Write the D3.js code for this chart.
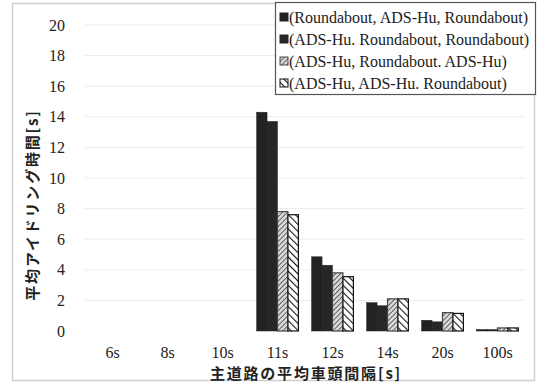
<!DOCTYPE html>
<html>
<head>
<meta charset="utf-8">
<script src="https://cdn.jsdelivr.net/npm/d3@7"></script>
<style>
  html, body { margin: 0; padding: 0; background: #fff; }
  svg { display: block; }
  text.tick-label { font-family: 'Liberation Serif', 'Times New Roman', serif; font-size: 16px; fill: #222; }
  text.legend-label { font-family: 'Liberation Serif', 'Times New Roman', serif; font-size: 16px; fill: #222; }
  text.axis-title { font-family: 'Noto Sans CJK JP', sans-serif; font-weight: bold; font-size: 15px; letter-spacing: 1.8px; fill: #222; }
</style>
</head>
<body>
<svg id="chart" width="538" height="385"></svg>
<script>
// Average idling time by mean headway on the main road
const categories = ["6s", "8s", "10s", "11s", "12s", "14s", "20s", "100s"];
const seriesNames = [
  "(Roundabout, ADS-Hu, Roundabout)",
  "(ADS-Hu. Roundabout, Roundabout)",
  "(ADS-Hu, Roundabout. ADS-Hu)",
  "(ADS-Hu, ADS-Hu. Roundabout)"
];
const s1 = [0, 0, 0, 14.3, 4.85, 1.85, 0.7, 0.1];
const s2 = [0, 0, 0, 13.7, 4.3, 1.65, 0.6, 0.1];
const s3 = [0, 0, 0, 7.8, 3.8, 2.1, 1.2, 0.2];
const s4 = [0, 0, 0, 7.6, 3.55, 2.1, 1.15, 0.2];
const seriesValues = [s1, s2, s3, s4];
const yTicks = [0, 2, 4, 6, 8, 10, 12, 14, 16, 18, 20];

const svg = d3.select("#chart");

// outer frame
svg.append("rect").attr("x", 12.5).attr("y", 3.5).attr("width", 522).attr("height", 377)
  .attr("fill", "none").attr("stroke", "#cfcfcf").attr("stroke-width", 1.5);

const defs = svg.append("defs");
// fine forward hatch
const p3 = defs.append("pattern").attr("id", "hatch3").attr("patternUnits", "userSpaceOnUse")
  .attr("width", 3.5).attr("height", 3.5).attr("patternTransform", "rotate(45)");
p3.append("rect").attr("width", 3.5).attr("height", 3.5).attr("fill", "#d8d8d8");
p3.append("line").attr("x1", 0).attr("y1", 0).attr("x2", 0).attr("y2", 3.5)
  .attr("stroke", "#333").attr("stroke-width", 1.4);
// bold back hatch
const p4 = defs.append("pattern").attr("id", "hatch4").attr("patternUnits", "userSpaceOnUse")
  .attr("width", 5).attr("height", 5).attr("patternTransform", "rotate(-45)");
p4.append("rect").attr("width", 5).attr("height", 5).attr("fill", "#fff");
p4.append("line").attr("x1", 0).attr("y1", 0).attr("x2", 0).attr("y2", 5)
  .attr("stroke", "#111").attr("stroke-width", 2.2);

const fills = ["#222", "#262626", "url(#hatch3)", "url(#hatch4)"];
const strokes = ["#222", "#262626", "#444", "#111"];

const margin = { left: 85, right: 525, top: 25, bottom: 331 };
const x = d3.scaleBand().domain(categories).range([margin.left, margin.right]).paddingInner(0.24).paddingOuter(0.12);
const xs = d3.scaleBand().domain(d3.range(4)).range([0, x.bandwidth()]);
const y = d3.scaleLinear().domain([0, 20]).range([margin.bottom, margin.top]);

// faint gridlines
svg.append("g").selectAll("line").data(yTicks.slice(1)).join("line")
  .attr("x1", margin.left).attr("x2", margin.right)
  .attr("y1", d => y(d)).attr("y2", d => y(d))
  .attr("stroke", "#ececec").attr("stroke-width", 1);

// y tick labels
svg.append("g").selectAll("text").data(yTicks).join("text")
  .attr("class", "tick-label")
  .attr("x", 65).attr("y", d => y(d)).attr("dy", "0.35em")
  .attr("text-anchor", "end")
  .text(d => d3.format("d")(d));

// x tick labels
svg.append("g").selectAll("text").data(categories).join("text")
  .attr("class", "tick-label")
  .attr("x", d => x(d) + x.bandwidth() / 2).attr("y", 358)
  .attr("text-anchor", "middle")
  .text(d => d);

// bars
const groups = svg.append("g").selectAll("g").data(categories).join("g")
  .attr("transform", d => `translate(${x(d)},0)`);
groups.selectAll("rect").data((c, i) => seriesValues.map((vals, k) => ({ k, v: vals[i] })))
  .join("rect")
  .filter(d => d.v > 0)
  .attr("x", d => xs(d.k))
  .attr("y", d => y(d.v))
  .attr("width", xs.bandwidth())
  .attr("height", d => y(0) - y(d.v))
  .attr("fill", d => fills[d.k])
  .attr("stroke", d => strokes[d.k])
  .attr("stroke-width", d => d.k >= 2 ? 1.2 : 0.5);

// axis titles
svg.append("text").attr("class", "axis-title").attr("x", 306).attr("y", 379).attr("text-anchor", "middle")
  .text("主道路の平均車頭間隔[s]");
svg.append("text").attr("class", "axis-title").attr("transform", "translate(38,205) rotate(-90)").attr("text-anchor", "middle")
  .text("平均アイドリング時間[s]");

// legend
const lg = svg.append("g").attr("transform", "translate(275,2)");
lg.append("rect").attr("x", 0.5).attr("y", 0.5).attr("width", 260).attr("height", 92)
  .attr("fill", "#fff").attr("stroke", "#555").attr("stroke-width", 1.2);
const items = lg.selectAll("g").data(seriesNames).join("g")
  .attr("transform", (d, i) => `translate(5,${15 + i * 22})`);
items.append("rect").attr("x", 0).attr("y", -4).attr("width", 8).attr("height", 8)
  .attr("fill", (d, i) => fills[i]).attr("stroke", (d, i) => strokes[i]).attr("stroke-width", 1);
items.append("text").attr("class", "legend-label").attr("x", 9).attr("dy", "0.35em")
  .text(d => d);
</script>
</body>
</html>
